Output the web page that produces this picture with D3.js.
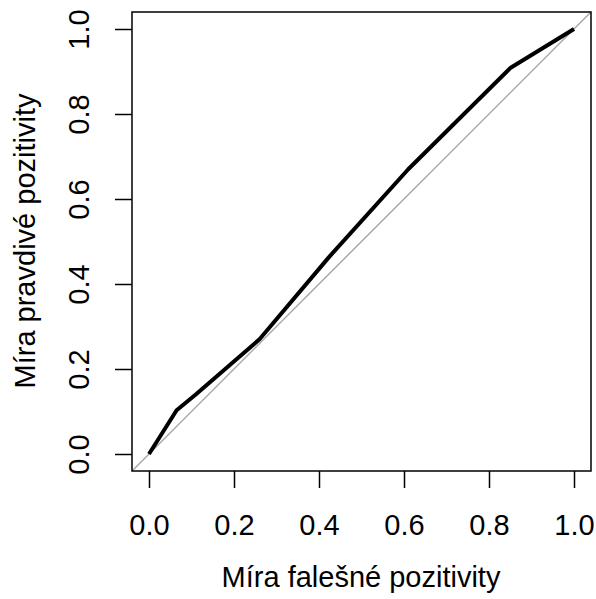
<!DOCTYPE html>
<html>
<head>
<meta charset="utf-8">
<script src="https://cdn.jsdelivr.net/npm/d3@7"></script>
<style>
  body { margin: 0; background: #fff; }
  text { font-family: "Liberation Sans", Arial, sans-serif; fill: #000; }
</style>
</head>
<body>
<div id="chart"></div>
<script>
// ROC curve
const fpr = [0, 0.065, 0.11, 0.26, 0.425, 0.61, 0.851, 1];
const tpr = [0, 0.103, 0.14, 0.27, 0.465, 0.67, 0.909, 1];
const ticks = [0, 0.2, 0.4, 0.6, 0.8, 1];
const xTitle = "Míra falešné pozitivity";
const yTitle = "Míra pravdivé pozitivity";

let width = 596, height = 599;
let svg = d3.select("#chart").append("svg")
  .attr("width", width).attr("height", height);

// R style axes: 4% padding around [0,1]
let x = d3.scaleLinear().domain([-0.04, 1.04]).range([132, 591]);
let y = d3.scaleLinear().domain([-0.04, 1.04]).range([471, 12]);

// diagonal reference line, clipped to the box
svg.append("defs").append("clipPath").attr("id", "clip")
  .append("rect").attr("x", 132).attr("y", 12).attr("width", 459).attr("height", 459);

svg.append("line")
  .attr("clip-path", "url(#clip)")
  .attr("x1", x(-0.04)).attr("y1", y(-0.04))
  .attr("x2", x(1.04)).attr("y2", y(1.04))
  .attr("stroke", "#aaaaaa").attr("stroke-width", 1.5);

let pts = fpr.map((f, i) => [f, tpr[i]]);
svg.append("path")
  .datum(pts)
  .attr("d", d3.line().x(d => x(d[0])).y(d => y(d[1])))
  .attr("fill", "none")
  .attr("stroke", "#000")
  .attr("stroke-width", 4)
  .attr("stroke-linejoin", "round");

// box
svg.append("rect")
  .attr("x", 132).attr("y", 12).attr("width", 459).attr("height", 459)
  .attr("fill", "none").attr("stroke", "#000").attr("stroke-width", 1.5);

// x axis
let xa = svg.append("g").attr("transform", "translate(0,471)")
  .call(d3.axisBottom(x).tickValues(ticks).tickSize(17).tickPadding(0).tickFormat(d3.format(".1f")));
xa.select(".domain").remove();
xa.selectAll("line").attr("stroke", "#000").attr("stroke-width", 1.5);
xa.selectAll("text").attr("y", 64).attr("dy", null).style("font-size", "29px");

// y axis
let ya = svg.append("g").attr("transform", "translate(132,0)")
  .call(d3.axisLeft(y).tickValues(ticks).tickSize(17).tickFormat(d3.format(".1f")));
ya.select(".domain").remove();
ya.selectAll("line").attr("stroke", "#000").attr("stroke-width", 1.5);
ya.selectAll("text")
  .attr("x", null).attr("dy", null)
  .attr("text-anchor", "middle")
  .attr("transform", "translate(-43,0) rotate(-90)")
  .style("font-size", "29px");

// titles
svg.append("text")
  .attr("x", 361).attr("y", 587)
  .attr("text-anchor", "middle")
  .style("font-size", "29px")
  .text(xTitle);

svg.append("text")
  .attr("transform", "translate(35,241) rotate(-90)")
  .attr("text-anchor", "middle")
  .style("font-size", "29px")
  .text(yTitle);
</script>
</body>
</html>
